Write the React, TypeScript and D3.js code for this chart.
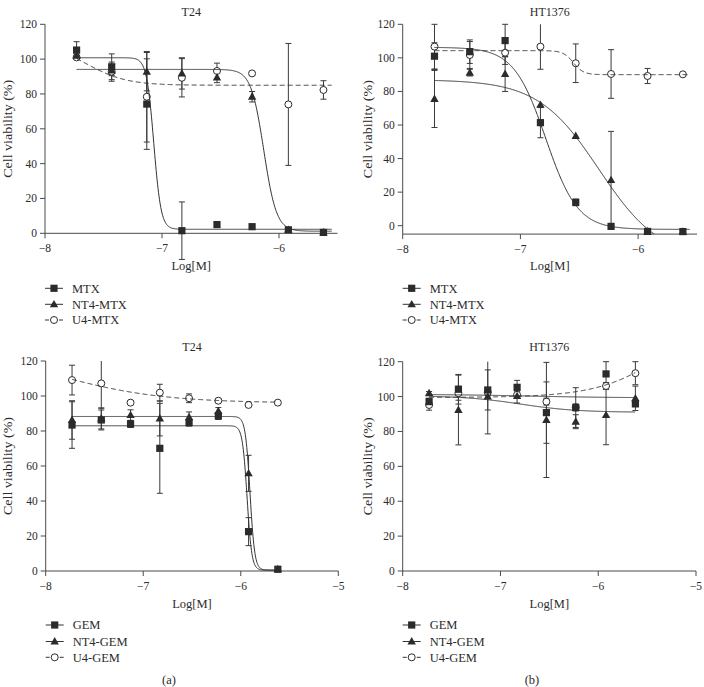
import React from 'react';
import * as d3 from 'd3';

// ---------- DATA ----------
const logConc = [-7.73, -7.43, -7.13, -6.83, -6.53, -6.23, -5.92, -5.62];
const yTicks = [0, 20, 40, 60, 80, 100, 120];

// (a) top: T24, MTX
const t24MtxVals = [105.2, 95.6, 74.2, 1.5, 5, 3.8, 2, 0.5];
const t24MtxErr = [4.8, 7.4, 26, 16.5, 0, 0, 0, 0];
const t24Nt4MtxVals = [102, 93.5, 92.8, 91.8, 89.5, 78.4, 2, 0.5];
const t24Nt4MtxErr = [1, 3, 11, 9, 3, 3, 0, 0];
const t24U4MtxVals = [101, 92.8, 78.4, 89.3, 93.2, 91.8, 74, 82.3];
const t24U4MtxErr = [1, 5.5, 26, 11, 4.5, 0, 35, 5.3];

// (b) top: HT1376, MTX
const htMtxVals = [101, 103.7, 110.3, 61.4, 13.9, -0.4, -3.4, -3.5];
const htMtxErr = [8, 7, 9.7, 9, 2, 0, 0, 0];
const htNt4MtxVals = [75.5, 91.2, 90.4, 72, 53.5, 27.2, -3.4, -3.5];
const htNt4MtxErr = [17, 2, 10.4, 0, 0, 29, 0, 0];
const htU4MtxVals = [106.7, 101.7, 103.1, 106.7, 96.8, 90.4, 89.2, 90.2];
const htU4MtxErr = [13.3, 8, 7, 13.5, 11.5, 14.5, 4.5, 0];

// (a) bottom: T24, GEM
const t24GemVals = [83.4, 86.3, 84, 70.1, 84.8, 88.6, 22.5, 1];
const t24GemErr = [13.3, 5.7, 2, 25.7, 2, 2, 8, 0];
const t24Nt4GemVals = [86.3, 87.2, 89.1, 87.2, 87.9, 91.4, 55.8, 1];
const t24Nt4GemErr = [11, 6, 3, 10, 3, 2, 10.3, 0];
const t24U4GemVals = [109.1, 107.2, 96.2, 101.9, 98.7, 97.3, 94.9, 96.2];
const t24U4GemErr = [8.5, 14.2, 0, 4.8, 2.5, 1, 0, 0];

// (b) bottom: HT1376, GEM
const htGemVals = [97.1, 104.2, 103.8, 105.3, 90.8, 93.7, 113, 95.8];
const htGemErr = [2, 8.5, 11.5, 4, 17.6, 11.4, 7, 0];
const htNt4GemVals = [101.9, 92.3, 100, 100.3, 86.6, 85.6, 89.4, 99];
const htNt4GemErr = [1, 20, 21.4, 4, 33, 4, 17, 7];
const htU4GemVals = [95.2, 101.9, 102.5, 101, 97.1, 93.8, 106.1, 113.4];
const htU4GemErr = [3, 4, 2, 2, 2, 2, 2, 6.6];

// fitted dose-response curves: [left plateau, right plateau, logEC50, hill]
const t24MtxFit = [100.8, 2.3, -7.07, 14];
const t24Nt4MtxFit = [94.1, 1.2, -6.13, 8];
const t24U4MtxFit = [110, 85, -7.65, 2.5];
const htMtxFit = [106.3, -2.2, -6.785, 3.2];
const htNt4MtxFit = [87, -20, -6.332, 1.68];
const htU4MtxFit = [104.3, 90, -6.55, 10];
const t24GemFit = [83, 0.5, -5.935, 18];
const t24Nt4GemFit = [88.3, 0.5, -5.905, 18];
const t24U4GemFit = [128, 96, -7.9, 0.8];
const htGemFit = [101.3, 99.3, -6.7, 1];
const htNt4GemFit = [100.5, 91, -6.8, 1.5];
const htU4GemFit = [99.5, 159.5, -5.2, 1.2];

const mtxNames = ['MTX', 'NT4-MTX', 'U4-MTX'];
const gemNames = ['GEM', 'NT4-GEM', 'U4-GEM'];

// ---------- LAYOUT ----------
const FONT = '"Liberation Serif", "Times New Roman", Times, serif';
const INK = '#2b2b2b';
const AXIS = '#4a4a4a';

type Series = { vals: number[]; err: number[]; fit: number[]; kind: 'square' | 'triangle' | 'circle' };

const panels = [
  {
    id: 'p1', title: 'T24', left: 45, right: 337.5, top: 24.3, bottom: 233.3,
    xDomain: [-8, -5.5], yDomain: [0, 120], xTicks: [-8, -7, -6], fitRange: [-7.73, -5.55],
    names: mtxNames, legendY: [288.3, 304.3, 320], xLabelY: 270, titleY: 15.5, yLabelX: 8,
    series: [
      { vals: t24MtxVals, err: t24MtxErr, fit: t24MtxFit, kind: 'square' },
      { vals: t24Nt4MtxVals, err: t24Nt4MtxErr, fit: t24Nt4MtxFit, kind: 'triangle' },
      { vals: t24U4MtxVals, err: t24U4MtxErr, fit: t24U4MtxFit, kind: 'circle' },
    ] as Series[],
  },
  {
    id: 'p2', title: 'HT1376', left: 402.7, right: 697, top: 24.3, bottom: 234.1,
    xDomain: [-8, -5.5], yDomain: [-5, 120], xTicks: [-8, -7, -6], fitRange: [-7.73, -5.56],
    names: mtxNames, legendY: [288.3, 304.3, 320], xLabelY: 270, titleY: 15.5, yLabelX: 368,
    series: [
      { vals: htMtxVals, err: htMtxErr, fit: htMtxFit, kind: 'square' },
      { vals: htNt4MtxVals, err: htNt4MtxErr, fit: htNt4MtxFit, kind: 'triangle' },
      { vals: htU4MtxVals, err: htU4MtxErr, fit: htU4MtxFit, kind: 'circle' },
    ] as Series[],
  },
  {
    id: 'p3', title: 'T24', left: 45.7, right: 338.3, top: 361, bottom: 571,
    xDomain: [-8, -5], yDomain: [0, 120], xTicks: [-8, -7, -6, -5], fitRange: [-7.73, -5.62],
    names: gemNames, legendY: [625, 641.5, 657.3], xLabelY: 608, titleY: 351, yLabelX: 8,
    series: [
      { vals: t24GemVals, err: t24GemErr, fit: t24GemFit, kind: 'square' },
      { vals: t24Nt4GemVals, err: t24Nt4GemErr, fit: t24Nt4GemFit, kind: 'triangle' },
      { vals: t24U4GemVals, err: t24U4GemErr, fit: t24U4GemFit, kind: 'circle' },
    ] as Series[],
  },
  {
    id: 'p4', title: 'HT1376', left: 402.7, right: 696, top: 361.7, bottom: 571,
    xDomain: [-8, -5], yDomain: [0, 120], xTicks: [-8, -7, -6, -5], fitRange: [-7.73, -5.62],
    names: gemNames, legendY: [625, 641.5, 657.3], xLabelY: 608, titleY: 351, yLabelX: 368,
    series: [
      { vals: htGemVals, err: htGemErr, fit: htGemFit, kind: 'square' },
      { vals: htNt4GemVals, err: htNt4GemErr, fit: htNt4GemFit, kind: 'triangle' },
      { vals: htU4GemVals, err: htU4GemErr, fit: htU4GemFit, kind: 'circle' },
    ] as Series[],
  },
];

const fmt = (v: number) => (v < 0 ? '\u2212' + Math.abs(v) : String(v));

function fitValue(p: number[], x: number) {
  const [l, r, c, h] = p;
  return l + (r - l) / (1 + Math.pow(10, (c - x) * h));
}

function Marker({ kind, x, y }: { kind: string; x: number; y: number }) {
  if (kind === 'square') return <rect x={x - 3.6} y={y - 3.6} width={7.2} height={7.2} fill={INK} />;
  if (kind === 'triangle')
    return <path d={`M${x},${y - 4.4}L${x + 4.2},${y + 3}L${x - 4.2},${y + 3}Z`} fill={INK} />;
  return <circle cx={x} cy={y} r={3.5} fill="#fff" stroke={INK} strokeWidth={1} />;
}

function Panel({ cfg }: { cfg: (typeof panels)[number] }) {
  const xs = d3.scaleLinear().domain(cfg.xDomain).range([cfg.left, cfg.right]);
  const ys = d3.scaleLinear().domain(cfg.yDomain).range([cfg.bottom, cfg.top]);
  const yMax = cfg.yDomain[1];
  const axisY = ys(cfg.yDomain[0]);
  const xsFit = d3.range(cfg.fitRange[0], cfg.fitRange[1] + 1e-9, 0.004);
  const cx = (cfg.left + cfg.right) / 2;
  const cy = (cfg.top + cfg.bottom) / 2;
  const order = [2, 1, 0];

  return (
    <g>
      <defs>
        <clipPath id={`clip-${cfg.id}`}>
          <rect x={cfg.left} y={cfg.top - 2} width={cfg.right - cfg.left + 2} height={axisY - cfg.top + 2} />
        </clipPath>
      </defs>
      <text x={cx} y={cfg.titleY} textAnchor="middle" fontSize={12} fill={INK} fontFamily={FONT}>
        {cfg.title}
      </text>
      <text
        transform={`translate(${cfg.yLabelX},${cy}) rotate(-90)`}
        textAnchor="middle"
        dominantBaseline="central"
        fontSize={12.5}
        fill={INK}
        fontFamily={FONT}
        textLength={98}
        lengthAdjust="spacingAndGlyphs"
      >
        Cell viability (%)
      </text>
      <line x1={cfg.left} x2={cfg.left} y1={cfg.top} y2={axisY} stroke={AXIS} strokeWidth={1} />
      <line x1={cfg.left} x2={cfg.right} y1={axisY} y2={axisY} stroke={AXIS} strokeWidth={1} />
      {yTicks.map((t) => (
        <g key={`y${t}`}>
          <line x1={cfg.left - 5} x2={cfg.left} y1={ys(t)} y2={ys(t)} stroke={AXIS} />
          <text x={cfg.left - 8} y={ys(t)} dy="0.35em" textAnchor="end" fontSize={11.5} fill={INK} fontFamily={FONT}>
            {t}
          </text>
        </g>
      ))}
      {cfg.xTicks.map((t) => (
        <g key={`x${t}`}>
          <line x1={xs(t)} x2={xs(t)} y1={axisY} y2={axisY + 5} stroke={AXIS} />
          <text x={xs(t)} y={axisY + 18.5} textAnchor="middle" fontSize={11.5} fill={INK} fontFamily={FONT}>
            {fmt(t)}
          </text>
        </g>
      ))}
      <text x={cx} y={cfg.xLabelY} textAnchor="middle" fontSize={12.5} fill={INK} fontFamily={FONT}>
        Log[M]
      </text>
      {cfg.series.map((s, si) =>
        s.vals.map((v, i) => {
          const e = s.err[i];
          if (!e) return null;
          const x = xs(logConc[i]);
          const hi = v + e;
          const lo = v - e;
          const yHi = ys(Math.min(hi, yMax));
          const yLo = ys(lo);
          return (
            <g key={`e${si}-${i}`} stroke="#3a3a3a" strokeWidth={1}>
              <line x1={x} x2={x} y1={yHi} y2={yLo} />
              {hi <= yMax && <line x1={x - 3} x2={x + 3} y1={yHi} y2={yHi} />}
              <line x1={x - 3} x2={x + 3} y1={yLo} y2={yLo} />
            </g>
          );
        })
      )}
      {cfg.series
        .filter((s) => s.kind === 'circle')
        .map((s, si) =>
          s.vals.map((v, i) => <Marker key={`c${si}-${i}`} kind="circle" x={xs(logConc[i])} y={ys(v)} />)
        )}
      <g clipPath={`url(#clip-${cfg.id})`}>
        {cfg.series.map((s, si) => {
          const pts = xsFit.map((x) => [xs(x), ys(fitValue(s.fit, x))] as [number, number]);
          const d = d3.line()(pts) || '';
          return (
            <path
              key={`f${si}`}
              d={d}
              fill="none"
              stroke="#333"
              strokeWidth={1}
              strokeDasharray={s.kind === 'circle' ? '5,3' : undefined}
            />
          );
        })}
      </g>
      {order.map((si) => {
        const s = cfg.series[si];
        if (s.kind === 'circle') return null;
        return s.vals.map((v, i) => <Marker key={`m${si}-${i}`} kind={s.kind} x={xs(logConc[i])} y={ys(v)} />);
      })}
      {cfg.series.map((s, si) => {
        const ly = cfg.legendY[si];
        const lx = cfg.left;
        return (
          <g key={`l${si}`}>
            <line
              x1={lx}
              x2={lx + 18}
              y1={ly}
              y2={ly}
              stroke="#333"
              strokeWidth={1}
              strokeDasharray={s.kind === 'circle' ? '4,3' : undefined}
            />
            <Marker kind={s.kind} x={lx + 9} y={ly} />
            <text x={lx + 27} y={ly} dy="0.35em" fontSize={12.5} fill={INK} fontFamily={FONT}>
              {cfg.names[si]}
            </text>
          </g>
        );
      })}
    </g>
  );
}

export default function App() {
  return (
    <svg
      width={704}
      height={687}
      viewBox="0 0 704 687"
      style={{ position: 'absolute', left: 0, top: 0, background: '#fff', display: 'block' }}
    >
      <rect x={0} y={0} width={704} height={687} fill="#fff" />
      {panels.map((p) => (
        <Panel key={p.id} cfg={p} />
      ))}
      <text x={169} y={684} textAnchor="middle" fontSize={12.5} fill={INK} fontFamily={FONT}>
        (a)
      </text>
      <text x={532} y={684} textAnchor="middle" fontSize={12.5} fill={INK} fontFamily={FONT}>
        (b)
      </text>
    </svg>
  );
}
